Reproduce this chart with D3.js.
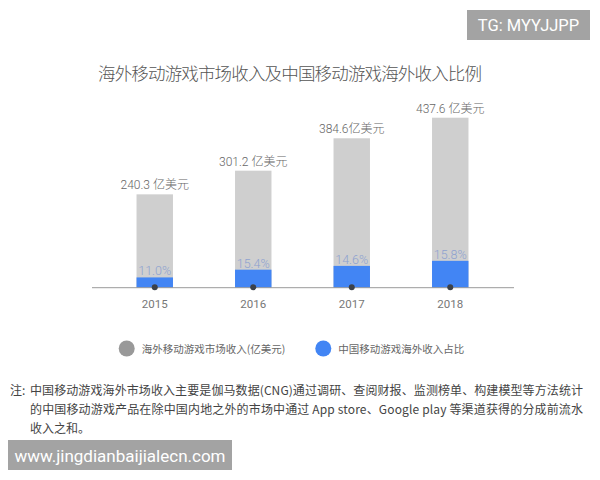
<!DOCTYPE html>
<html><head><meta charset="utf-8">
<script src="https://cdn.jsdelivr.net/npm/d3@7"></script>
<style>html,body{margin:0;padding:0;background:#fff;}svg{display:block;font-family:"Noto Sans CJK SC","Noto Sans",sans-serif;}</style>
</head><body>
<svg id="c" width="600" height="480"></svg>
<script>
const years = ["2015","2016","2017","2018"];
const revenue = [240.3, 301.2, 384.6, 437.6];
const share = [11.0, 15.4, 14.6, 15.8];
const revenueLabels = ["240.3 亿美元","301.2 亿美元","384.6亿美元","437.6 亿美元"];
const legendLabels = ["海外移动游戏市场收入(亿美元)","中国移动游戏海外收入占比"];
const title = "海外移动游戏市场收入及中国移动游戏海外收入比例";
const noteLines = [
  "中国移动游戏海外市场收入主要是伽马数据(CNG)通过调研、查阅财报、监测榜单、构建模型等方法统计",
  "的中国移动游戏产品在除中国内地之外的市场中通过 App store、Google play 等渠道获得的分成前流水",
  "收入之和。"
];

const mixFont = "Roboto, 'Noto Sans CJK SC', sans-serif";
const svg = d3.select("#c");
const baseY = 287.7;
const x = d3.scaleBand().domain(years).range([105.5, 499.5]).paddingInner(0.63).paddingOuter(0.315);
const y = d3.scaleLinear().domain([0, 437.6]).range([baseY, 117.7]);

// watermark top
svg.append("rect").attr("x",467).attr("y",10).attr("width",123).attr("height",30).attr("fill","#a3a3a3");
svg.append("text").attr("x",528.5).attr("y",31).attr("text-anchor","middle").attr("fill","#fff")
  .style("font-family","Roboto, 'Noto Sans', sans-serif").attr("font-size",16.5).text("TG: MYYJJPP");

// title
svg.append("text").attr("x",98).attr("y",80).attr("fill","#555").attr("font-weight",300)
  .attr("font-size",17.5).attr("textLength",384).attr("lengthAdjust","spacing").text(title);

// gray bars
svg.selectAll(".g").data(years).enter().append("rect")
  .attr("x",d=>x(d)).attr("width",x.bandwidth())
  .attr("y",(d,i)=>y(revenue[i])).attr("height",(d,i)=>baseY-y(revenue[i]))
  .attr("fill","#cfcfcf");
// blue bars
svg.selectAll(".b").data(years).enter().append("rect")
  .attr("x",d=>x(d)).attr("width",x.bandwidth())
  .attr("y",(d,i)=>y(revenue[i]*share[i]/100)).attr("height",(d,i)=>baseY-y(revenue[i]*share[i]/100))
  .attr("fill","#4285f4");
// axis line
svg.append("line").attr("x1",92).attr("x2",514).attr("y1",baseY).attr("y2",baseY).attr("stroke","#9a9a9a").attr("stroke-width",1);
// dots
svg.selectAll(".d").data(years).enter().append("circle")
  .attr("cx",d=>x(d)+x.bandwidth()/2).attr("cy",baseY-0.5).attr("r",3).attr("fill","#3c4149");
// value labels
svg.selectAll(".vl").data(years).enter().append("text")
  .attr("x",d=>x(d)+x.bandwidth()/2).attr("y",(d,i)=>y(revenue[i])-5)
  .attr("text-anchor","middle").attr("fill","#666").attr("font-size",12).attr("font-weight",300)
  .style("font-family",mixFont)
  .text((d,i)=>revenueLabels[i]);
// pct labels
svg.selectAll(".pl").data(years).enter().append("text")
  .attr("x",d=>x(d)+x.bandwidth()/2).attr("y",(d,i)=>y(revenue[i]*share[i]/100)-2)
  .attr("text-anchor","middle").attr("fill","#8ea2cf").attr("font-size",12.5)
  .style("font-family","Roboto, 'Noto Sans', sans-serif").attr("font-weight",300)
  .text((d,i)=>share[i].toFixed(1)+"%");
// year labels
svg.selectAll(".yl").data(years).enter().append("text")
  .attr("x",d=>x(d)+x.bandwidth()/2).attr("y",308)
  .attr("text-anchor","middle").attr("fill","#777").attr("font-size",11.5)
  .style("font-family","Roboto, 'Noto Sans', sans-serif")
  .text(d=>d);

// legend
const legendColors = ["#999999","#4285f4"];
const legendX = [126.7, 323.3];
legendLabels.forEach((l,i)=>{
  svg.append("circle").attr("cx",legendX[i]).attr("cy",348.5).attr("r",8).attr("fill",legendColors[i]);
  svg.append("text").attr("x",legendX[i]+15).attr("y",352.5).attr("fill","#666").attr("font-size",10.5).text(l);
});

// note
svg.append("text").attr("x",10).attr("y",395).attr("fill","#444").attr("font-size",12).text("注:");
svg.append("text").attr("x",30).attr("y",395).attr("fill","#444").attr("font-size",12)
  .attr("textLength",553).attr("lengthAdjust","spacing").text(noteLines[0]);
svg.append("text").attr("x",30).attr("y",414).attr("fill","#444").attr("font-size",12)
  .attr("textLength",553).attr("lengthAdjust","spacing").text(noteLines[1]);
svg.append("text").attr("x",30).attr("y",433).attr("fill","#444").attr("font-size",12).text(noteLines[2]);

// watermark bottom
svg.append("rect").attr("x",8).attr("y",440).attr("width",224).attr("height",30).attr("fill","#a3a3a3");
svg.append("text").attr("x",120).attr("y",461.5).attr("text-anchor","middle").attr("fill","#fff")
  .style("font-family","Roboto, 'Noto Sans', sans-serif").attr("font-size",17).text("www.jingdianbaijialecn.com");
</script>
</body></html>
